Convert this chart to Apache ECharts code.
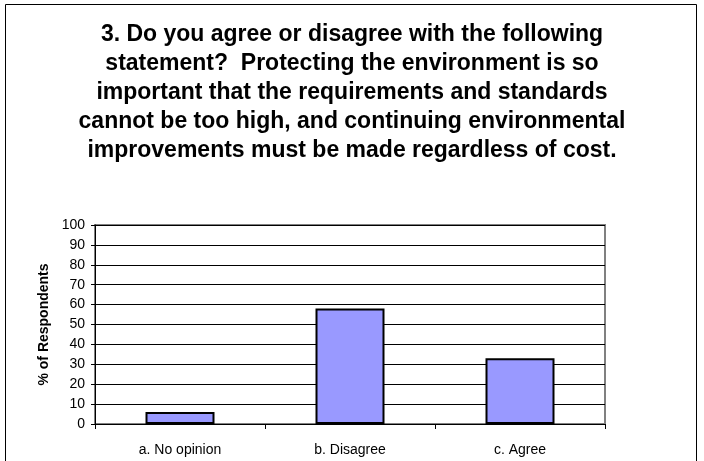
<!DOCTYPE html>
<html>
<head>
<meta charset="utf-8">
<script src="https://cdn.jsdelivr.net/npm/echarts@6/dist/echarts.min.js"></script>
<style>
  html, body { margin: 0; padding: 0; background: #fff; }
  #chart { width: 704px; height: 461px; }
</style>
</head>
<body>
<div id="chart"></div>
<script>
const titleLines = [
  '3. Do you agree or disagree with the following',
  'statement?  Protecting the environment is so',
  'important that the requirements and standards',
  'cannot be too high, and continuing environmental',
  'improvements must be made regardless of cost.'
];
const categories = ['a. No opinion', 'b. Disagree', 'c. Agree'];
const respondents = [6, 58, 33];
const yTicks = { min: 0, max: 100, interval: 10 };

const font = "'Liberation Sans', Arial, sans-serif";
const chart = echarts.init(document.getElementById('chart'), null, { renderer: 'canvas' });

chart.setOption({
  animation: false,
  backgroundColor: '#fff',
  textStyle: { fontFamily: font, color: '#000' },
  graphic: [{
    type: 'rect',
    shape: { x: 5.5, y: 4.5, width: 691, height: 500 },
    style: { fill: 'none', stroke: '#000', lineWidth: 1 },
    silent: true
  }],
  title: {
    text: titleLines.join('\n'),
    left: 'center',
    top: 20,
    padding: 0,
    textStyle: {
      fontFamily: font,
      fontSize: 23,
      fontWeight: 'bold',
      lineHeight: 29,
      color: '#000'
    }
  },
  grid: {
    left: 95,
    right: 99,
    top: 225,
    bottom: 37,
    show: true,
    borderColor: '#808080',
    borderWidth: 2
  },
  xAxis: {
    type: 'category',
    data: categories,
    axisLine: { lineStyle: { color: '#000', width: 1 } },
    axisTick: { show: true, length: 5, lineStyle: { color: '#000' } },
    axisLabel: { fontSize: 14, color: '#000', margin: 19, fontFamily: font }
  },
  yAxis: {
    type: 'value',
    min: yTicks.min,
    max: yTicks.max,
    interval: yTicks.interval,
    name: '% of Respondents',
    nameLocation: 'middle',
    nameRotate: 90,
    nameGap: 42,
    nameTextStyle: { fontSize: 14, fontWeight: 'bold', color: '#000', fontFamily: font },
    axisLine: { show: true, lineStyle: { color: '#000', width: 1 } },
    axisTick: { show: true, length: 4, lineStyle: { color: '#000' } },
    axisLabel: { fontSize: 14, color: '#000', margin: 10, fontFamily: font },
    splitLine: { show: true, lineStyle: { color: '#000', width: 1 } }
  },
  series: [{
    type: 'bar',
    data: respondents,
    barWidth: 69,
    itemStyle: { color: '#9999FF', borderColor: '#000', borderWidth: 2 }
  }]
});
</script>
</body>
</html>
